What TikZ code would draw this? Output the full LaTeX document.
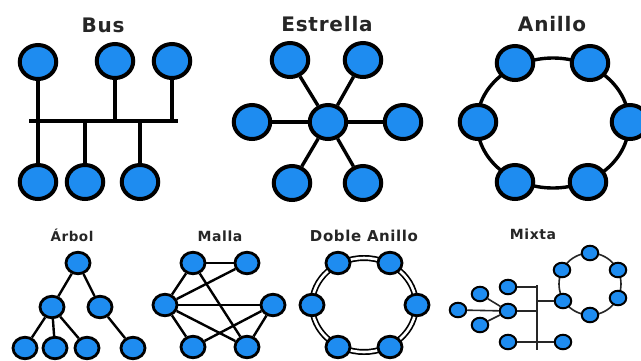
\documentclass[tikz,border=0pt]{standalone}
\usepackage{fontspec}
\setmainfont{DejaVu Sans}
\newfontfamily\titlefont[LetterSpace=4.0]{DejaVu Sans}
\usetikzlibrary{shapes.geometric}
\definecolor{nodeblue}{HTML}{1E8CF0}
\tikzset{
  big/.style={ellipse,draw=black,fill=nodeblue,line width=4pt,minimum width=36.5pt,minimum height=34pt,inner sep=0pt},
  small/.style={ellipse,draw=black,fill=nodeblue,line width=2.8pt,minimum width=24pt,minimum height=21.5pt,inner sep=0pt},
  tiny/.style={ellipse,draw=black,fill=nodeblue,line width=2pt,minimum width=16.5pt,minimum height=14.5pt,inner sep=0pt},
  bigline/.style={line width=3.4pt,black},
  smallline/.style={line width=2.4pt,black},
  tinyline/.style={line width=1.6pt,black!85},
  bigtitle/.style={font=\titlefont\fontsize{20}{24}\selectfont\bfseries,text=black!85},
  smalltitle/.style={font=\titlefont\fontsize{14}{17}\selectfont\bfseries,text=black!85}
}
\begin{document}
\begin{tikzpicture}[x=1pt,y=-1pt]
\useasboundingbox (0,0) rectangle (641,360);
\fill[white] (0,0) rectangle (641,360);

% ---------- Bus ----------
\node[bigtitle] (tbus) at (103,25) {Bus};
\coordinate (busL) at (29,121);
\coordinate (busR) at (178,121);
\draw[bigline] (busL) -- (busR);
\node[big] (bt1) at (38,62) {};
\node[big] (bt2) at (115,61) {};
\node[big] (bt3) at (172,61) {};
\node[big] (bb1) at (38,182) {};
\node[big] (bb2) at (85,182) {};
\node[big] (bb3) at (140,182) {};
\foreach \n in {bt1,bt2,bt3,bb1,bb2,bb3} \draw[bigline] (\n) -- (\n |- busL);

% ---------- Estrella ----------
\node[bigtitle] (test) at (327,24) {Estrella};
\node[big] (sc) at (328,122) {};
\node[big] (s1) at (290,60) {};
\node[big] (s2) at (363,60) {};
\node[big] (s3) at (252,122) {};
\node[big] (s4) at (403,122) {};
\node[big] (s5) at (292,183) {};
\node[big] (s6) at (363,183) {};
\foreach \n in {s1,s2,s3,s4,s5,s6} \draw[bigline] (sc) -- (\n);

% ---------- Anillo ----------
\node[bigtitle] (tani) at (552,24) {Anillo};
\draw[bigline] (553,123) ellipse [x radius=76, y radius=65];
\node[big] (a1) at (515,63) {};
\node[big] (a2) at (590,63) {};
\node[big] (a3) at (478,122) {};
\node[big] (a4) at (630,122) {};
\node[big] (a5) at (515,182) {};
\node[big] (a6) at (588,182) {};

% ---------- Arbol ----------
\node[smalltitle,font=\titlefont\fontsize{13.5}{16}\selectfont\bfseries] (tarb) at (72,235) {Árbol};
\node[small] (r0) at (78,263) {};
\node[small] (r1) at (52,307) {};
\node[small] (r2) at (100,307) {};
\node[small] (r3) at (25,348) {};
\node[small] (r4) at (55,348) {};
\node[small] (r5) at (87,348) {};
\node[small] (r6) at (133,348) {};
\draw[smallline] (r0) -- (r1);
\draw[smallline] (r0) -- (r2);
\draw[smallline] (r1) -- (r3);
\draw[smallline] (r1) -- (r4);
\draw[smallline] (r1) -- (r5);
\draw[smallline] (r2) -- (r6);

% ---------- Malla ----------
\node[smalltitle] (tmal) at (220,236) {Malla};
\node[small] (mA) at (193,263) {};
\node[small] (mB) at (247,263) {};
\node[small] (mC) at (165,305) {};
\node[small] (mD) at (273,305) {};
\node[small] (mE) at (193,347) {};
\node[small] (mF) at (247,347) {};
\draw[smallline] (mA) -- (mB);
\draw[smallline] (mA) -- (mC);
\draw[smallline] (mA) -- (mF);
\draw[smallline] (mC) -- (mB);
\draw[smallline] (mC) -- (mD);
\draw[smallline] (mC) -- (mE);
\draw[smallline] (mC) -- (mF);
\draw[smallline] (mE) -- (mD);
\draw[smallline] (mF) -- (mD);

% ---------- Doble Anillo ----------
\node[smalltitle,font=\titlefont\fontsize{15}{18}\selectfont\bfseries] (tdob) at (364,236) {Doble Anillo};
\draw[line width=1.7pt,double=white,double distance=2.6pt] (364,305) ellipse [x radius=52, y radius=47];
\node[small] (d1) at (338,263) {};
\node[small] (d2) at (390,263) {};
\node[small] (d3) at (312,305) {};
\node[small] (d4) at (417,305) {};
\node[small] (d5) at (338,347) {};
\node[small] (d6) at (390,347) {};

% ---------- Mixta ----------
\node[smalltitle] (tmix) at (533,234) {Mixta};
\coordinate (xt) at (537,285);
\coordinate (xb) at (537,350);
\draw[tinyline] (xt) -- (xb);
\draw[tinyline] (590,284) circle [radius=31];
\node[tiny] (xL) at (458,310) {};
\node[tiny] (xUL) at (480,294) {};
\node[tiny] (xLL) at (480,325) {};
\node[tiny] (xH) at (508,311) {};
\node[tiny] (xT) at (508,287) {};
\node[tiny] (xB) at (508,342) {};
\node[tiny] (xBR) at (563,342) {};
\node[tiny] (q1) at (590,253) {};
\node[tiny] (q2) at (562,270) {};
\node[tiny] (q3) at (618,270) {};
\node[tiny] (q4) at (618,298) {};
\node[tiny] (q5) at (590,315) {};
\node[tiny] (q6) at (563,301) {};
\draw[tinyline] (xL) -- (xH);
\draw[tinyline] (xUL) -- (xH);
\draw[tinyline] (xLL) -- (xH);
\draw[tinyline] (xT) -- (xT -| xt);
\draw[tinyline] (xH) -- (xH -| xt);
\draw[tinyline] (xB) -- (xBR);
\draw[tinyline] (q6) -- (q6 -| xt);
\end{tikzpicture}
\end{document}
